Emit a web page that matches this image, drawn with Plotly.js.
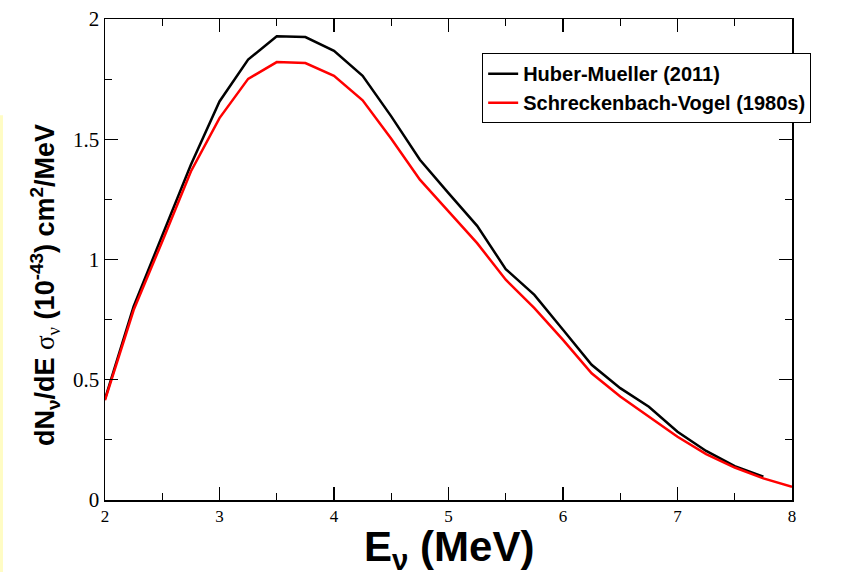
<!DOCTYPE html>
<html>
<head>
<meta charset="utf-8">
<script src="https://cdn.plot.ly/plotly-3.0.1.min.js"></script>
<style>html,body{margin:0;padding:0;background:#fff;}#chart{width:849px;height:572px;}</style>
</head>
<body>
<div id="chart"></div>
<script>
// Energy grid (MeV)
const energyHuber = [2, 2.25, 2.5, 2.75, 3, 3.25, 3.5, 3.75, 4, 4.25, 4.5, 4.75, 5, 5.25, 5.5, 5.75, 6, 6.25, 6.5, 6.75, 7, 7.25, 7.5, 7.75];
const huberMueller = [0.42, 0.805, 1.10, 1.394, 1.657, 1.831, 1.928, 1.925, 1.868, 1.764, 1.595, 1.415, 1.276, 1.140, 0.960, 0.853, 0.708, 0.562, 0.465, 0.388, 0.284, 0.204, 0.141, 0.097];
const energySV = [2, 2.25, 2.5, 2.75, 3, 3.25, 3.5, 3.75, 4, 4.25, 4.5, 4.75, 5, 5.25, 5.5, 5.75, 6, 6.25, 6.5, 6.75, 7, 7.25, 7.5, 7.75, 8];
const schreckenbachVogel = [0.415, 0.79, 1.075, 1.366, 1.588, 1.751, 1.821, 1.817, 1.764, 1.662, 1.502, 1.332, 1.200, 1.068, 0.916, 0.798, 0.666, 0.527, 0.430, 0.347, 0.263, 0.191, 0.135, 0.090, 0.055];
const seriesNames = ["Huber-Mueller (2011)", "Schreckenbach-Vogel (1980s)"];
const xTickVals = [2, 3, 4, 5, 6, 7, 8];
const yTickVals = [0, 0.5, 1, 1.5, 2];
const yTickText = ["0", "0.5", "1", "1.5", "2"];
const xTitle = "<b>E<sub>ν</sub> (MeV)</b>";
const yTitle = "<b>dN<sub>ν</sub>/dE </b><span style='font-family:Liberation Serif, serif;font-weight:normal'>σ<sub>ν</sub></span><b> (10<sup>-43</sup>) cm<sup>2</sup>/MeV</b>";

const traces = [
  {x: energyHuber, y: huberMueller, type: "scatter", mode: "lines", name: seriesNames[0],
   line: {color: "#000000", width: 2.5}},
  {x: energySV, y: schreckenbachVogel, type: "scatter", mode: "lines", name: seriesNames[1],
   line: {color: "#ff0000", width: 2.5}}
];

const axisCommon = {
  showline: true, linecolor: "#000", linewidth: 1.5, mirror: "allticks",
  ticks: "inside", ticklen: 13, tickwidth: 1.2, tickcolor: "#000",
  showgrid: false, zeroline: false,
  tickfont: {family: "Liberation Serif, Times New Roman, serif", color: "#000"}
};

const sansBold = {family: "Liberation Sans, Arial, sans-serif", color: "#000"};

const layout = {
  width: 849, height: 572,
  margin: {l: 105, r: 57, t: 19, b: 72},
  paper_bgcolor: "#fff", plot_bgcolor: "#fff",
  showlegend: true,
  legend: {
    x: 0.549, xanchor: "left", y: 0.929, yanchor: "top",
    bgcolor: "#fff", bordercolor: "#000", borderwidth: 1,
    font: Object.assign({}, sansBold, {size: 20, weight: "bold"}),
    tracegroupgap: 0, itemwidth: 30
  },
  xaxis: Object.assign({}, axisCommon, {
    range: [2, 8], tickvals: xTickVals, tickfont: Object.assign({}, axisCommon.tickfont, {size: 17}),
    minor: {dtick: 0.5, ticks: "inside", ticklen: 7, tickwidth: 1.2, tickcolor: "#000", showgrid: false}
  }),
  yaxis: Object.assign({}, axisCommon, {
    range: [0, 2], tickvals: yTickVals, ticktext: yTickText, tickfont: Object.assign({}, axisCommon.tickfont, {size: 21}),
    minor: {dtick: 0.25, ticks: "inside", ticklen: 7, tickwidth: 1.2, tickcolor: "#000", showgrid: false}
  }),
  annotations: [
    {text: xTitle, xref: "paper", yref: "paper", x: 0.5, y: -0.103, xanchor: "center", yanchor: "middle",
     showarrow: false, font: Object.assign({}, sansBold, {size: 42})},
    {text: yTitle, xref: "paper", yref: "paper", x: -0.0873, y: 0.447, xanchor: "center", yanchor: "middle",
     textangle: -90, showarrow: false, font: Object.assign({}, sansBold, {size: 27})}
  ],
  shapes: [
    {type: "rect", xref: "paper", yref: "paper", x0: -0.1528, x1: -0.1485, y0: -0.15, y1: 0.80,
     fillcolor: "#fffcc4", line: {width: 0}, layer: "below"}
  ]
};

Plotly.newPlot("chart", traces, layout, {displayModeBar: false, staticPlot: true});
</script>
</body>
</html>
